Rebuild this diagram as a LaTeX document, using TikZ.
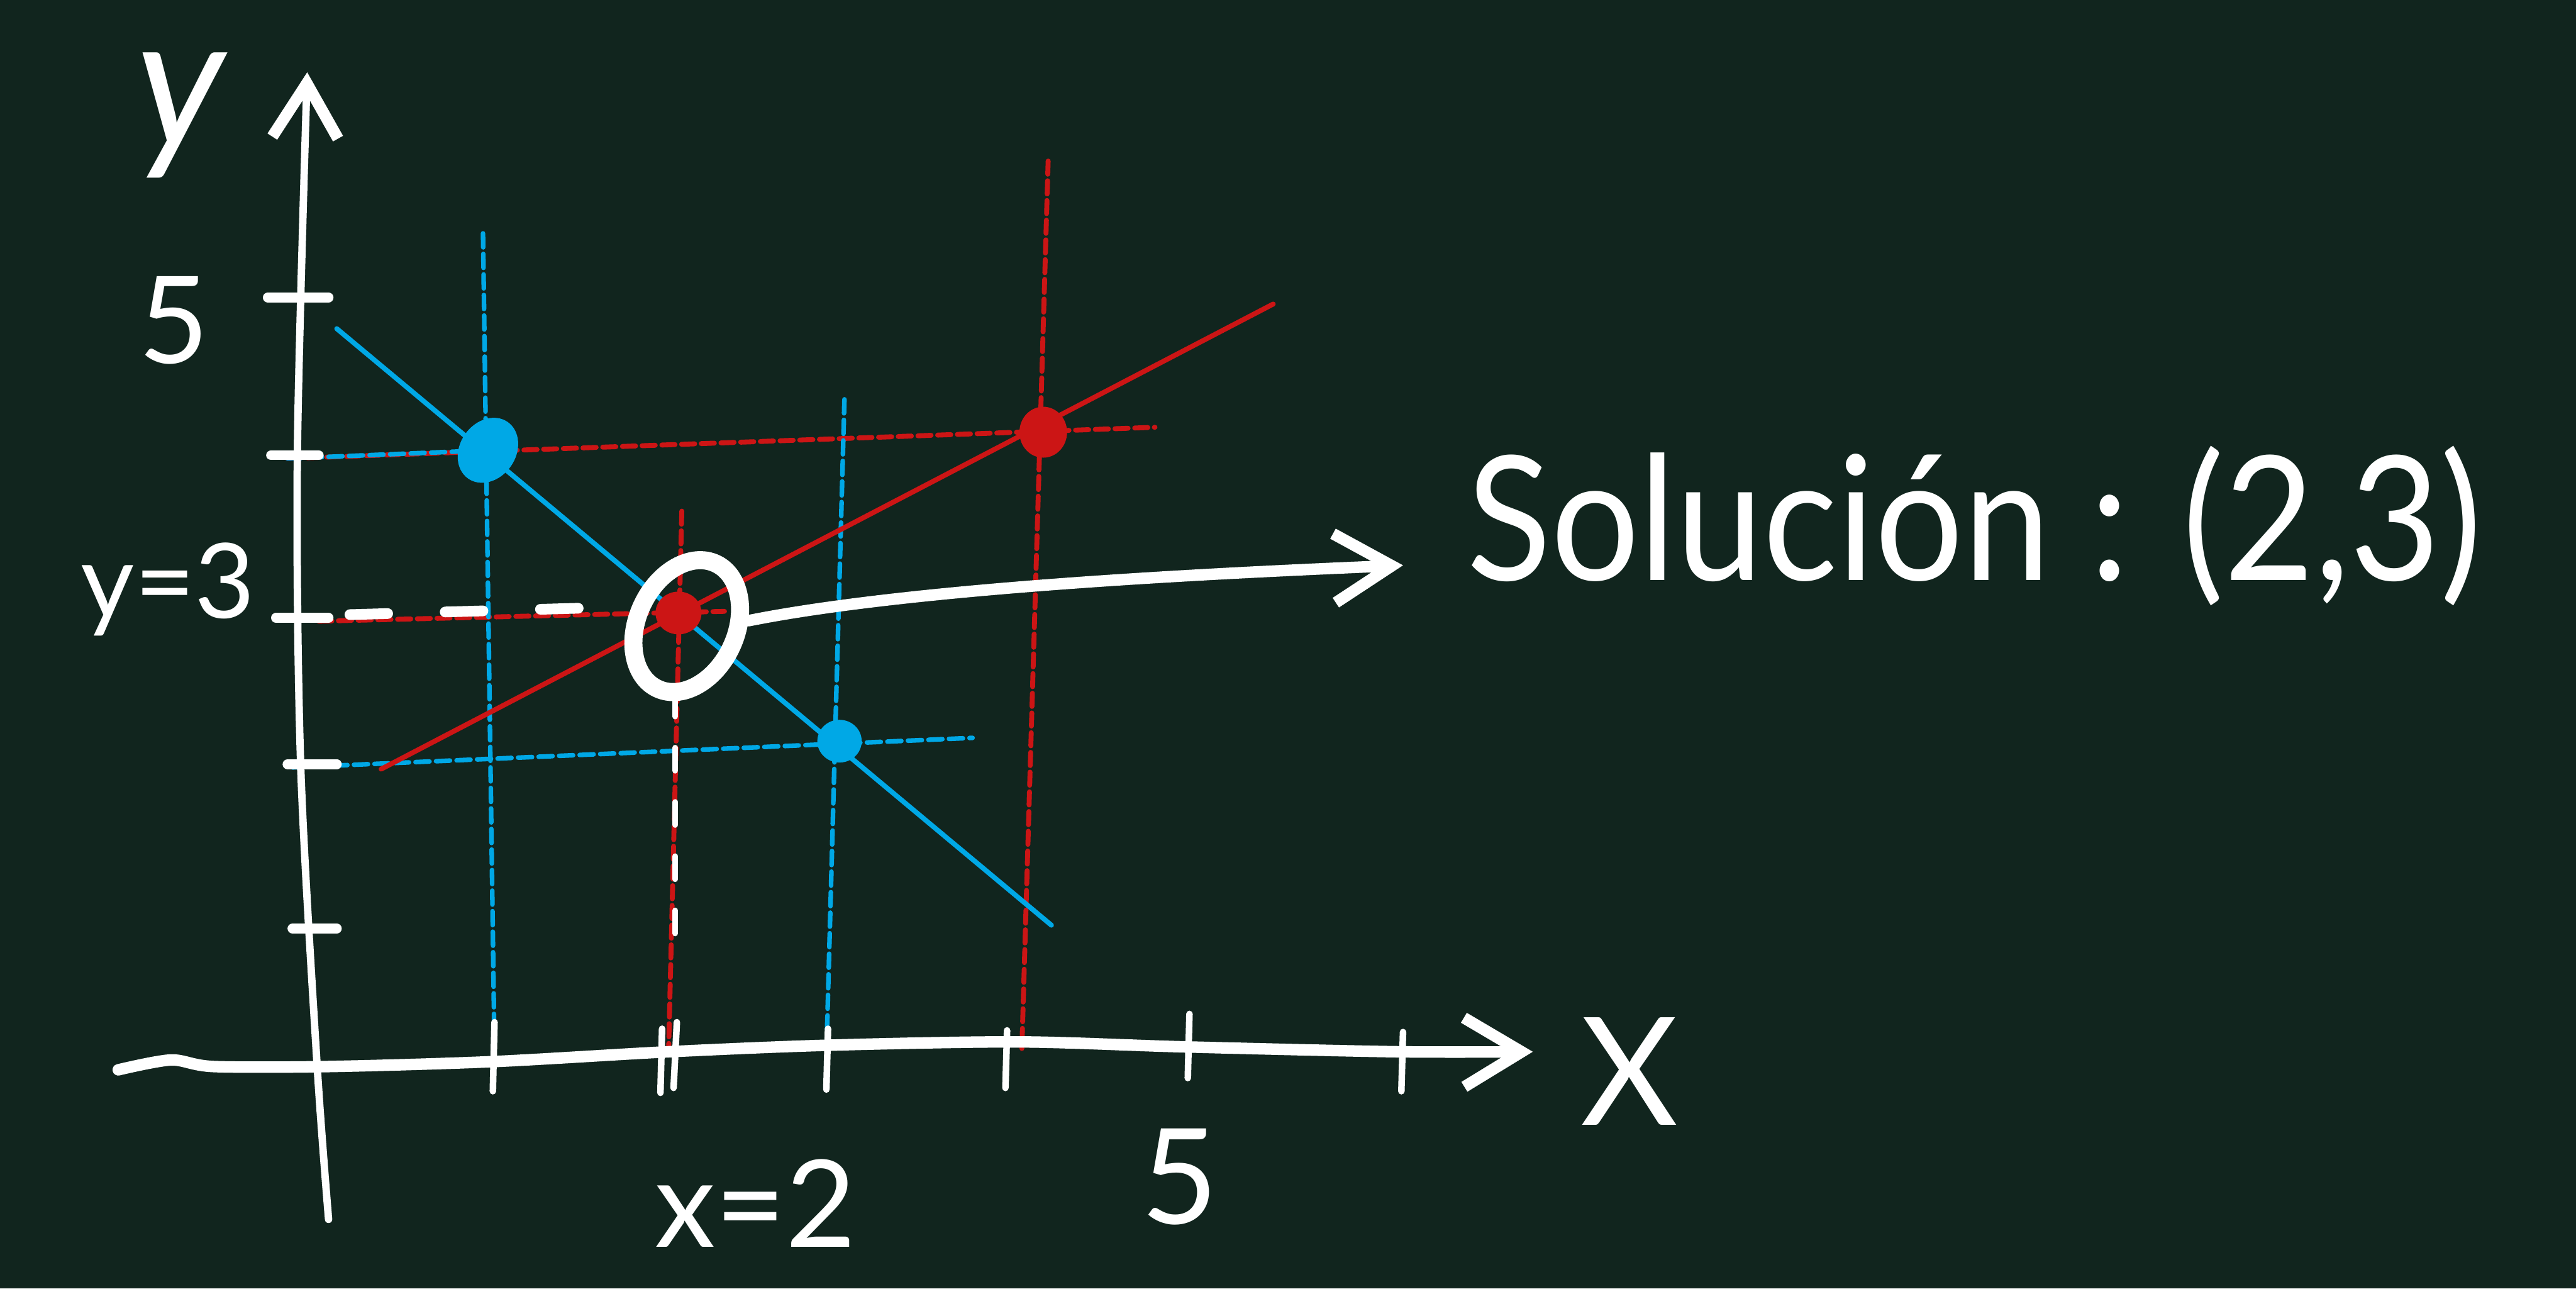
\documentclass[tikz,border=0pt]{standalone}
\usepackage{fontspec}
\setmainfont{Lato}
\usetikzlibrary{arrows.meta,positioning,shapes.geometric}
\definecolor{board}{RGB}{17,37,30}
\definecolor{cblue}{RGB}{0,168,230}
\definecolor{cred}{RGB}{204,21,21}

\begin{document}
\begin{tikzpicture}[line cap=round,line join=round,
chalk/.style={white,line width=0.7mm},
axisy/.style={white,line width=0.45mm},
ytick/.style={white,line width=0.6mm},
xtick/.style={white,line width=0.4mm},
bline/.style={cblue,line width=0.3mm},
rline/.style={cred,line width=0.3mm},
bdash/.style={cblue,line width=0.28mm,dash pattern=on 0.85mm off 0.4mm},
rdash/.style={cred,line width=0.3mm,dash pattern=on 0.8mm off 0.4mm},
wdash/.style={white,line width=0.35mm,dash pattern=on 1.4mm off 1.9mm},
wbigdash/.style={white,line width=0.65mm,dash pattern=on 2.3mm off 3.5mm},
lbl/.style={white,inner sep=0pt},
barb/.style={-{Straight Barb[length=3.5mm,width=4.2mm,line width=0.7mm]}}]
\useasboundingbox (0,0) rectangle (15.68,7.84);
\fill[board] (0,0) rectangle (15.68,7.84);
\coordinate (pa) at (2.97,5.10);
\coordinate (pb) at (5.11,3.33);
\coordinate (pc) at (6.35,5.21);
\coordinate (pd) at (4.13,4.11);
\draw[rdash] (1.75,5.05) -- (7.03,5.24);
\draw[rdash] (6.38,6.86) -- (6.22,1.46);
\draw[rdash] (4.15,4.73) -- (4.07,1.46);
\draw[rdash] (1.94,4.06) -- (4.41,4.12);
\draw[bdash] (1.75,5.05) -- (pa);
\draw[bdash] (2.94,6.42) -- (3.01,1.44);
\draw[bdash] (5.14,5.41) -- (5.03,1.42);
\draw[bdash] (1.78,3.17) -- (5.92,3.35);
\draw[bline] (2.05,5.84) -- (6.40,2.21);
\draw[rline] (2.32,3.16) -- (7.75,5.99);
\fill[cblue,rotate around={55:(pa)}] (pa) ellipse [x radius=0.21,y radius=0.17];
\fill[cblue] (pb) ellipse [x radius=0.135,y radius=0.13];
\fill[cred] (pc) ellipse [x radius=0.145,y radius=0.155];
\fill[cred] (pd) ellipse [x radius=0.14,y radius=0.13];
\draw[axisy,-{Straight Barb[length=3.3mm,width=4mm,line width=0.7mm]}] plot[smooth] coordinates {(2.00,0.42) (1.93,1.36) (1.83,3.19) (1.81,5.07) (1.87,7.40)};
\draw[chalk,barb] plot[smooth] coordinates {(0.72,1.33) (1.04,1.39) (1.30,1.35) (2.00,1.35) (3.00,1.38) (4.07,1.44) (5.05,1.48) (6.20,1.50) (7.20,1.47) (8.50,1.44) (9.33,1.44)};
\draw[ytick] (1.63,6.03) -- (2.00,6.03) (1.65,5.07) -- (1.94,5.07) (1.68,4.08) -- (2.00,4.08) (1.75,3.19) -- (2.05,3.19) (1.78,2.19) -- (2.05,2.19);
\draw[xtick] (3.00,1.20) -- (3.01,1.62) (4.02,1.19) -- (4.03,1.58) (4.10,1.22) -- (4.12,1.62) (5.03,1.21) -- (5.04,1.58) (6.12,1.22) -- (6.13,1.57) (7.23,1.28) -- (7.24,1.67) (8.53,1.20) -- (8.54,1.56);
\draw[wbigdash] (2.13,4.10) -- (3.56,4.14);
\draw[wdash] (4.11,3.62) -- (4.11,2.10);
\node[ellipse,draw=white,line width=1.1mm,minimum width=0.6cm,minimum height=0.84cm,inner sep=0pt,rotate=-25] (ring) at (4.18,4.03) {};
\node[lbl,font=\fontsize{32}{36}\selectfont\itshape] (ylab) at (1.10,7.14) {y};
\node[lbl,font=\fontsize{21}{24}\selectfont] (yfive) at (1.06,5.89) {5};
\node[lbl,font=\fontsize{18}{22}\selectfont,anchor=base east] (ythree) at (1.56,4.08) {y=3};
\node[lbl,font=\fontsize{21}{24}\selectfont] (xtwo) at (4.60,0.52) {x=2};
\node[lbl,font=\fontsize{23}{26}\selectfont] (xfive) at (7.18,0.68) {5};
\node[lbl,font=\fontsize{26}{30}\selectfont] (xlab) at (9.92,1.32) {X};
\node[lbl,font={\fontsize{30}{36}\selectfont\addfontfeatures{FakeStretch=0.9}},anchor=base west] (sol) at (8.92,4.31) {Solución : (2,3)};
\coordinate (tipsol) at (8.54,4.40);
\draw[chalk,barb] (ring.30) .. controls +(1.0,0.2) and +(-1.2,-0.05) .. (tipsol);
\end{tikzpicture}
\end{document}
